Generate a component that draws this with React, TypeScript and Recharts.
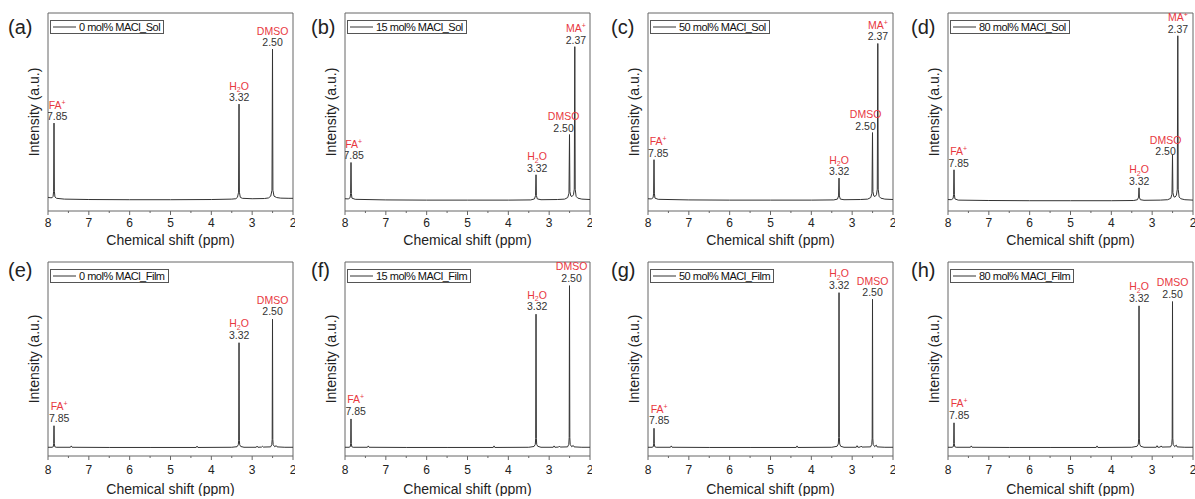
import React from 'react';
import { ComposedChart, Line, Scatter, XAxis, YAxis, ReferenceArea, Legend } from 'recharts';

const FONT = 'Arial, "Liberation Sans", sans-serif';
const RED = '#e8383f';
const LINE = '#333333';
const FRAME = '#666666';

const xTicks = [8, 7.5, 7, 6.5, 6, 5.5, 5, 4.5, 4, 3.5, 3, 2.5, 2];
const panelLetters = ['(a)', '(b)', '(c)', '(d)', '(e)', '(f)', '(g)', '(h)'];
const legendNames = [
  '0 mol% MACl_Sol', '15 mol% MACl_Sol', '50 mol% MACl_Sol', '80 mol% MACl_Sol',
  '0 mol% MACl_Film', '15 mol% MACl_Film', '50 mol% MACl_Film', '80 mol% MACl_Film',
];

// spectra: [chemical shift (ppm), intensity (a.u., 0-100 of frame)]
const specA = [
  [8.0, 6.9], [7.95, 6.7], [7.9, 6.7], [7.875, 7.4], [7.862, 10], [7.853, 44.4], [7.844, 10], [7.83, 7.1], [7.79, 6.4],
  [7.6, 6.0], [7.0, 5.8], [6.0, 5.7], [5.0, 5.7], [4.0, 5.8], [3.5, 6.0], [3.4, 6.2], [3.36, 6.9], [3.333, 9.5],
  [3.322, 54], [3.313, 9.5], [3.29, 6.9], [3.24, 6.4], [3.0, 6.2], [2.7, 6.3], [2.6, 6.6], [2.545, 7.5], [2.515, 10.5],
  [2.502, 81.8], [2.492, 10.5], [2.465, 7.5], [2.4, 6.8], [2.3, 6.5], [2.1, 6.4], [2.0, 6.4],
];
const specB = [
  [8.0, 6.2], [7.92, 6.1], [7.875, 6.7], [7.862, 8.8], [7.853, 24.5], [7.844, 8.8], [7.83, 6.5], [7.75, 5.9],
  [7.0, 5.6], [6.0, 5.5], [5.0, 5.5], [4.0, 5.5], [3.45, 5.6], [3.36, 6.1], [3.333, 7.8], [3.322, 18.3], [3.313, 7.8],
  [3.29, 6.1], [3.2, 5.7], [2.8, 5.8], [2.62, 6.0], [2.545, 6.8], [2.515, 9], [2.502, 38.6], [2.492, 9.8], [2.47, 7.6],
  [2.44, 7.3], [2.405, 8.2], [2.385, 11], [2.372, 83], [2.362, 11], [2.34, 7.4], [2.3, 6.5], [2.2, 6.0], [2.0, 5.8],
];
const specC = [
  [8.0, 6.2], [7.92, 6.1], [7.875, 6.7], [7.862, 9], [7.853, 25.9], [7.844, 9], [7.83, 6.5], [7.75, 5.9],
  [7.0, 5.6], [6.0, 5.5], [5.0, 5.5], [4.0, 5.5], [3.45, 5.6], [3.36, 6.0], [3.333, 7.6], [3.322, 16.6], [3.313, 7.6],
  [3.29, 6.0], [3.2, 5.7], [2.8, 5.8], [2.62, 6.0], [2.545, 6.8], [2.515, 9], [2.502, 39.6], [2.492, 9.8], [2.47, 7.6],
  [2.44, 7.3], [2.405, 8.2], [2.385, 11], [2.372, 84.6], [2.362, 11], [2.34, 7.4], [2.3, 6.5], [2.2, 6.0], [2.0, 5.8],
];
const specD = [
  [8.0, 5.8], [7.92, 5.7], [7.875, 6.3], [7.862, 8.4], [7.853, 20.8], [7.844, 8.4], [7.83, 6.1], [7.75, 5.5],
  [7.0, 5.3], [6.0, 5.2], [5.0, 5.2], [4.0, 5.2], [3.45, 5.3], [3.36, 5.7], [3.333, 7.0], [3.322, 11.7], [3.313, 7.0],
  [3.29, 5.7], [3.2, 5.4], [2.8, 5.5], [2.62, 5.7], [2.545, 6.4], [2.515, 8.5], [2.502, 28.4], [2.492, 9.3], [2.47, 7.2],
  [2.44, 7.0], [2.405, 8.0], [2.385, 11], [2.372, 88.5], [2.362, 11], [2.34, 7.1], [2.3, 6.2], [2.2, 5.7], [2.0, 5.5],
];
const specE = [
  [8.0, 4.5], [7.9, 4.5], [7.87, 4.8], [7.86, 6.5], [7.853, 15.6], [7.846, 6.5], [7.835, 4.8], [7.8, 4.5],
  [7.45, 4.5], [7.43, 5.2], [7.41, 4.5], [6.5, 4.4], [5.5, 4.4], [4.37, 4.4], [4.35, 5.1], [4.33, 4.4], [3.5, 4.5],
  [3.37, 4.8], [3.34, 5.8], [3.33, 8], [3.322, 58.4], [3.314, 8], [3.305, 5.8], [3.28, 4.9], [3.2, 4.5], [2.9, 4.5],
  [2.88, 5.1], [2.86, 4.5], [2.77, 4.6], [2.75, 5.0], [2.73, 4.6], [2.55, 4.7], [2.52, 5.8], [2.51, 8.5], [2.502, 70.5],
  [2.494, 8.5], [2.485, 5.8], [2.45, 4.8], [2.41, 5.3], [2.39, 4.7], [2.2, 4.5], [2.0, 4.5],
];
const specF = [
  [8.0, 4.5], [7.9, 4.5], [7.87, 4.8], [7.86, 6.5], [7.853, 19.1], [7.846, 6.5], [7.835, 4.8], [7.8, 4.5],
  [7.45, 4.5], [7.43, 5.2], [7.41, 4.5], [6.5, 4.4], [5.5, 4.4], [4.37, 4.4], [4.35, 5.2], [4.33, 4.4], [3.5, 4.5],
  [3.37, 4.9], [3.34, 6.0], [3.33, 9], [3.322, 73.1], [3.314, 9], [3.305, 6.0], [3.28, 5.0], [3.2, 4.5], [2.9, 4.5],
  [2.88, 5.2], [2.86, 4.5], [2.77, 4.6], [2.75, 5.1], [2.73, 4.6], [2.55, 4.7], [2.52, 6.0], [2.51, 9.5], [2.502, 87.8],
  [2.494, 9.5], [2.485, 6.0], [2.45, 4.8], [2.41, 5.4], [2.39, 4.7], [2.2, 4.5], [2.0, 4.5],
];
const specG = [
  [8.0, 4.5], [7.9, 4.5], [7.87, 4.8], [7.86, 6.3], [7.853, 14.3], [7.846, 6.3], [7.835, 4.8], [7.8, 4.5],
  [7.45, 4.5], [7.43, 5.2], [7.41, 4.5], [6.5, 4.4], [5.5, 4.4], [4.37, 4.4], [4.35, 5.2], [4.33, 4.4], [3.5, 4.5],
  [3.37, 5.0], [3.34, 6.2], [3.33, 9.5], [3.322, 84.2], [3.314, 9.5], [3.305, 6.2], [3.28, 5.0], [3.2, 4.5], [2.9, 4.5],
  [2.88, 5.3], [2.86, 4.5], [2.8, 4.6], [2.78, 5.1], [2.76, 4.6], [2.55, 4.7], [2.52, 6.0], [2.51, 9.2], [2.502, 80.8],
  [2.494, 9.2], [2.485, 6.0], [2.45, 4.8], [2.41, 5.6], [2.39, 4.7], [2.2, 4.5], [2.0, 4.5],
];
const specH = [
  [8.0, 4.5], [7.9, 4.5], [7.87, 4.8], [7.86, 6.4], [7.853, 17.1], [7.846, 6.4], [7.835, 4.8], [7.8, 4.5],
  [7.45, 4.5], [7.43, 5.2], [7.41, 4.5], [6.5, 4.4], [5.5, 4.4], [4.37, 4.4], [4.35, 5.2], [4.33, 4.4], [3.5, 4.5],
  [3.37, 5.0], [3.34, 6.1], [3.33, 9.2], [3.322, 77.4], [3.314, 9.2], [3.305, 6.1], [3.28, 5.0], [3.2, 4.5], [2.9, 4.5],
  [2.88, 5.3], [2.86, 4.5], [2.8, 4.6], [2.78, 5.2], [2.76, 4.6], [2.55, 4.7], [2.52, 6.0], [2.51, 9.2], [2.502, 79.6],
  [2.494, 9.2], [2.485, 6.0], [2.45, 4.8], [2.41, 5.6], [2.39, 4.7], [2.2, 4.5], [2.0, 4.5],
];

// labelled peaks: [assignment, shift (ppm), peak intensity]
const peaksA = [['FA', 7.85, 44.4], ['H2O', 3.32, 54], ['DMSO', 2.5, 81.8]];
const peaksB = [['FA', 7.85, 24.5], ['H2O', 3.32, 18.3], ['DMSO', 2.5, 38.6], ['MA', 2.37, 83]];
const peaksC = [['FA', 7.85, 25.9], ['H2O', 3.32, 16.6], ['DMSO', 2.5, 39.6], ['MA', 2.37, 84.6]];
const peaksD = [['FA', 7.85, 20.8], ['H2O', 3.32, 11.7], ['DMSO', 2.5, 28.4], ['MA', 2.37, 88.5]];
const peaksE = [['FA', 7.85, 15.6], ['H2O', 3.32, 58.4], ['DMSO', 2.5, 70.5]];
const peaksF = [['FA', 7.85, 19.1], ['H2O', 3.32, 73.1], ['DMSO', 2.5, 87.8]];
const peaksG = [['FA', 7.85, 14.3], ['H2O', 3.32, 84.2], ['DMSO', 2.5, 80.8]];
const peaksH = [['FA', 7.85, 17.1], ['H2O', 3.32, 77.4], ['DMSO', 2.5, 79.6]];

// ---- layout / style (kept separate from data) ----
const colLefts = [48, 345, 648, 948];
const letterOffsets = [40, 34, 37, 37];
const rowTops = [13, 262];
const rowHeights = [198, 194];
const rowTickGap = [12, 14];
const rowTitleGap = [29, 33];
const rowLetterY = [27, 270];
const PLOT_W = 245;

const labelNudges: Record<string, Record<string, number[]>> = {
  a: { FA: [3, 0] },
  b: { FA: [2.5, 0], H2O: [1, 0], DMSO: [-6, 0], MA: [1, 0] },
  c: { FA: [4, 0], DMSO: [-7, 0] },
  d: { FA: [4.5, 0], DMSO: [-7, 3.5] },
  e: { FA: [5, -1], H2O: [0, -1], DMSO: [0, -1] },
  f: { FA: [4.5, -1], H2O: [1, -1], DMSO: [2, -1] },
  g: { FA: [5, -1], H2O: [0, -1], DMSO: [0, 0] },
  h: { FA: [5, -1], H2O: [0, -1], DMSO: [0, -1] },
};

const spectra = [specA, specB, specC, specD, specE, specF, specG, specH];
const peakSets = [peaksA, peaksB, peaksC, peaksD, peaksE, peaksF, peaksG, peaksH];
const keys = ['a', 'b', 'c', 'd', 'e', 'f', 'g', 'h'];

const renderName = (name: string) => {
  if (name === 'H2O')
    return (
      <>
        H<tspan fontSize={7} dy={2.5}>2</tspan>
        <tspan dy={-2.5}>O</tspan>
      </>
    );
  if (name === 'FA' || name === 'MA')
    return (
      <>
        {name}
        <tspan fontSize={7} dy={-4}>+</tspan>
      </>
    );
  return name;
};

const PeakLabel = (props: any) => {
  const { cx, cy, payload } = props;
  if (cx == null || cy == null) return null;
  const x = cx + payload.dx;
  const yNum = cy - 3 + payload.dy;
  return (
    <g fontFamily={FONT}>
      <text x={x} y={yNum - 11.5} textAnchor="middle" fontSize={10.5} fill={RED}>
        {renderName(payload.name)}
      </text>
      <text x={x} y={yNum} textAnchor="middle" fontSize={10.5} fill="#333">
        {payload.x.toFixed(2)}
      </text>
    </g>
  );
};

const makeTick = (gap: number) => (props: any) => {
  const { x, y, payload } = props;
  const v = payload.value;
  const major = Number.isInteger(v);
  return (
    <g>
      <line x1={x} x2={x} y1={y} y2={y + (major ? 4 : 2)} stroke={FRAME} strokeWidth={1} />
      {major && (
        <text x={x} y={y + gap} textAnchor="middle" dominantBaseline="central" fontSize={12} fill="#222" fontFamily={FONT}>
          {v}
        </text>
      )}
    </g>
  );
};

const XTitle = (props: any) => {
  const { viewBox, gap } = props;
  const cx = viewBox.x + viewBox.width / 2;
  return (
    <text x={cx} y={viewBox.y + gap} textAnchor="middle" dominantBaseline="central" fontSize={14} fill="#222" fontFamily={FONT}>
      Chemical shift (ppm)
    </text>
  );
};

const YTitle = (props: any) => {
  const { viewBox } = props;
  const cx = viewBox.x + viewBox.width / 2;
  const cy = viewBox.y + viewBox.height / 2;
  return (
    <text
      x={cx}
      y={cy}
      transform={`rotate(-90 ${cx} ${cy})`}
      textAnchor="middle"
      dominantBaseline="central"
      fontSize={14}
      fill="#222"
      fontFamily={FONT}
    >
      Intensity (a.u.)
    </text>
  );
};

const LegendBox = ({ text }: { text: string }) => (
  <div
    style={{
      display: 'inline-flex',
      alignItems: 'center',
      border: '1px solid #555',
      background: '#fff',
      height: 12,
      padding: '0 3px 0 2px',
      fontFamily: FONT,
      fontSize: 11,
      letterSpacing: '-0.5px',
      color: '#111',
      whiteSpace: 'nowrap',
      lineHeight: '12px',
    }}
  >
    <svg width={23} height={4} style={{ display: 'block' }}>
      <line x1={0} x2={23} y1={2} y2={2} stroke={LINE} strokeWidth={1} />
    </svg>
    <span style={{ marginLeft: 3 }}>{text}</span>
  </div>
);

const Panel = ({ idx }: { idx: number }) => {
  const row = idx < 4 ? 0 : 1;
  const col = idx % 4;
  const L = colLefts[col];
  const T = rowTops[row];
  const H = rowHeights[row];
  const key = keys[idx];
  const nud = labelNudges[key];
  const line = spectra[idx].map(([x, y]) => ({ x, y }));
  const labels = peakSets[idx].map(([name, x, y]) => ({
    name,
    x,
    y,
    dx: (nud[name as string] || [0, 0])[0],
    dy: (nud[name as string] || [0, 0])[1],
  }));
  const left = 20;
  const width = PLOT_W + 48 + 2;
  const height = H + 13 + 40;
  return (
    <>
      <div
        style={{
          position: 'absolute',
          left: L - letterOffsets[col],
          top: rowLetterY[row] - 11.5,
          fontSize: 20,
          lineHeight: '23px',
          fontFamily: FONT,
          color: '#222',
        }}
      >
        {panelLetters[idx]}
      </div>
      <div style={{ position: 'absolute', left: L - 48, top: T - 13 }}>
        <ComposedChart width={width} height={height} margin={{ top: 13, right: 2, left, bottom: 0 }}>
          <XAxis
            dataKey="x"
            type="number"
            domain={[2, 8]}
            reversed
            ticks={xTicks}
            interval={0}
            allowDataOverflow
            axisLine={false}
            tickLine={false}
            tickSize={0}
            tickMargin={0}
            height={40}
            tick={makeTick(rowTickGap[row])}
            label={<XTitle gap={rowTitleGap[row]} />}
          />
          <YAxis
            type="number"
            domain={[0, 100]}
            allowDataOverflow
            width={28}
            tick={false}
            tickLine={false}
            axisLine={false}
            label={<YTitle />}
          />
          <ReferenceArea x1={2} x2={8} y1={0} y2={100} fill="none" stroke={FRAME} strokeWidth={1} ifOverflow="visible" />
          <Line
            data={line}
            dataKey="y"
            type="linear"
            stroke={LINE}
            strokeWidth={1}
            dot={false}
            activeDot={false}
            isAnimationActive={false}
          />
          <Scatter data={labels} dataKey="y" shape={<PeakLabel />} isAnimationActive={false} />
          <Legend
            layout="vertical"
            align="center"
            verticalAlign="middle"
            wrapperStyle={{ left: 50, top: 15, width: 'auto', height: 'auto' }}
            content={() => <LegendBox text={legendNames[idx]} />}
          />
        </ComposedChart>
      </div>
    </>
  );
}

export default function App() {
  return (
    <div
      style={{
        position: 'absolute',
        left: 0,
        top: 0,
        width: 1195,
        height: 499,
        background: '#fff',
        fontFamily: FONT,
        overflow: 'hidden',
      }}
    >
      {[0, 1, 2, 3, 4, 5, 6, 7].map((i) => (
        <Panel key={i} idx={i} />
      ))}
    </div>
  );
}
